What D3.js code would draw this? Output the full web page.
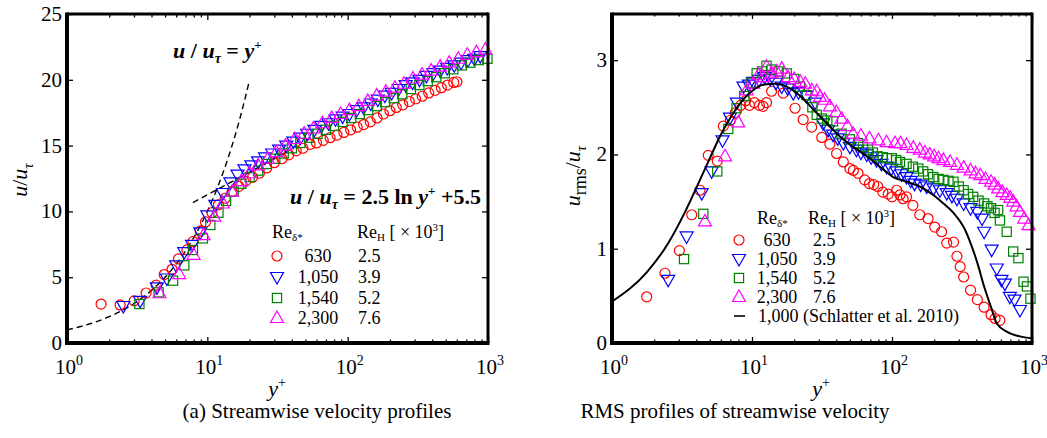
<!DOCTYPE html>
<html><head><meta charset="utf-8">
<script src="https://cdn.jsdelivr.net/npm/d3@7"></script>
<style>
body{margin:0;background:#fff}
svg{display:block}
</style>
</head><body>
<svg id="c" width="1047" height="438" font-family="Liberation Serif, DejaVu Serif, serif"></svg>
<script>
// ---------- Left panel: mean velocity u/u_tau vs y+ ----------
const mRed_yp = [1.75,2.39,3.01,3.66,4.32,4.93,5.6,6.24,7.16,7.9,8.9,9.7,10.8,12,13.4,15,16.8,18.8,21,23.5,26.5,30,34,38,43,48,54,60,67,75,84,94,105,117,130,145,162,180,200,222,247,275,305,340,378,420,465,515,570,600];
const mRed_u  = [2.96,2.89,3.2,3.8,4.4,5.2,5.6,6.4,7.07,7.7,8.5,9.2,9.9,10.5,11.0,11.5,11.9,12.3,12.6,12.9,13.3,13.7,14.0,14.3,14.6,14.8,15.1,15.2,15.4,15.6,15.8,16.0,16.2,16.4,16.6,16.8,17.1,17.4,17.65,17.9,18.1,18.35,18.55,18.75,19.0,19.2,19.4,19.6,19.8,19.85];
const mBlue_yp = [2.52,3.32,4.37,5.15,6.0,6.85,7.77,8.9,10.0,11.4,12.9,14.6,16.4,18.4,20.6,23,25.8,29,32.5,36.5,41,46,51.5,58,65,73,82,92,103,116,130,146,164,184,206,231,259,290,325,364,408,457,512,574,643,720,800,880];
const mBlue_u  = [2.81,3.2,4.23,4.9,5.9,6.9,7.45,8.4,9.7,10.5,11.4,12.2,12.8,13.2,13.5,13.8,14.1,14.4,14.7,15.0,15.3,15.6,15.9,16.2,16.5,16.7,17.0,17.2,17.4,17.7,17.9,18.2,18.5,18.8,19.0,19.3,19.6,19.8,20.0,20.3,20.5,20.7,20.9,21.1,21.3,21.5,21.6,21.8];
const mGreen_yp = [3.28,4.5,5.7,6.85,7.9,9.3,10.5,12,13.6,15.4,17.5,20,23,26.5,30.5,35,40,46,53,61,70,80,92,106,122,140,161,185,213,245,282,324,372,428,492,566,651,748,860,990];
const mGreen_u  = [2.96,3.85,4.74,5.9,7.07,7.95,8.97,9.9,10.8,11.5,12.1,12.6,13.1,13.6,14.0,14.4,14.8,15.2,15.6,15.9,16.2,16.5,16.8,17.1,17.4,17.7,18.0,18.3,18.6,18.9,19.3,19.6,19.9,20.2,20.5,20.8,21.1,21.3,21.5,21.6];
const mMag_yp = [4.56,6.3,7.98,9.4,11.2,12.9,15,17.5,20,23,27,31,36,42,49,57,66,77,89,103,120,139,161,187,217,252,292,339,393,456,529,614,712,826,958];
const mMag_u  = [3.78,5.24,6.7,8.2,9.6,10.6,11.5,12.3,12.9,13.5,14.0,14.5,15.0,15.5,15.9,16.3,16.7,17.1,17.4,17.7,18.0,18.4,18.8,19.1,19.4,19.7,20.1,20.4,20.7,21.0,21.3,21.6,21.9,22.1,22.3];
// reference lines (left)
const visc_yp = [1,1.5,2,3,4,5,6,8,10,12,14,16,18,20];
const visc_u  = [1,1.5,2,3,4,5,6,8,10,12,14,16,18,20];
const logLaw_yp = [7.9,10,15,20,30,40];
const logLaw_u  = [10.67,11.26,12.27,12.99,14.00,14.72];

// ---------- Right panel: RMS u_rms/u_tau vs y+ ----------
const rRed_yp = [1.77,2.39,3.03,3.71,4.25,4.87,5.65,6.24,7.0,7.6,8.3,9.0,9.6,10.4,11.3,12.0,12.7,13.8,16.7,20.3,23.2,26.7,31.5,36,40.2,44.9,50.1,53,57.2,63.8,69,74,79,86,94,100,108,114,120,127,141,158,181,202,226,246,275,291,307,325,364,407,455,510,545,590];
const rRed_u  = [0.49,0.74,0.98,1.36,1.62,1.99,1.93,2.30,2.36,2.44,2.52,2.57,2.52,2.55,2.52,2.51,2.55,2.67,2.65,2.49,2.37,2.29,2.18,2.11,2.01,1.92,1.85,1.83,1.80,1.73,1.69,1.68,1.66,1.60,1.58,1.55,1.62,1.57,1.53,1.55,1.46,1.36,1.32,1.23,1.18,1.06,1.07,0.92,0.81,0.70,0.56,0.46,0.38,0.30,0.26,0.24];
const rBlue_yp = [2.52,3.41,4.37,5.15,6.16,6.96,7.8,8.7,9.5,10.2,11.2,12.3,13.5,14.8,16.3,18,19.7,21.5,24.5,28.2,32.2,35,37.9,41,44.9,50,55.7,60,66,71,77.5,84,91.4,99,108,117,127,136,145,160,177,198,220,246,268,291,325,364,407,440,455,515,560,605,640,695,750,820];
const rBlue_u  = [0.67,1.13,1.59,1.82,2.15,2.39,2.55,2.72,2.74,2.77,2.79,2.82,2.80,2.76,2.72,2.70,2.65,2.66,2.62,2.55,2.33,2.26,2.21,2.17,2.12,2.08,2.05,2.02,2.0,1.97,1.94,1.90,1.87,1.85,1.82,1.79,1.76,1.72,1.69,1.68,1.66,1.64,1.62,1.59,1.56,1.53,1.48,1.43,1.39,1.32,1.18,0.99,0.79,0.67,0.63,0.49,0.46,0.35];
const rGreen_yp = [3.27,4.49,5.65,6.77,7.76,8.8,9.8,10.8,11.8,12.7,13.8,15.5,17.7,20,22,24.5,27,29,31.5,34.5,37.9,43.6,50,57.2,62,67.5,73,79,86,92,99.6,107,114,127,141,154,167,181,197,215,233,253,275,300,325,350,380,415,455,480,510,540,573,590,660,734,800,870,920,975];
const rGreen_u  = [0.89,1.37,1.82,2.27,2.49,2.62,2.76,2.86,2.88,2.94,2.90,2.88,2.86,2.80,2.72,2.63,2.50,2.42,2.38,2.36,2.35,2.22,2.16,2.12,2.08,2.05,2.02,1.98,1.97,1.96,1.96,1.94,1.92,1.90,1.87,1.85,1.82,1.79,1.76,1.74,1.73,1.72,1.71,1.66,1.62,1.58,1.55,1.51,1.48,1.45,1.43,1.38,1.41,1.30,1.18,0.97,0.90,0.65,0.60,0.47];
const rMag_yp = [4.61,6.42,7.98,9.15,10.2,11.1,12.0,12.7,13.8,15,16.3,18.1,20,22.1,24,26.7,29,30.6,33,36,40,43.6,48,52.7,60,69,80,91.4,105,115,127,142,158,172,186,200,215,233,260,291,325,364,395,428,465,510,540,573,615,660,700,734,775,820,880,945];
const rMag_u  = [1.29,1.98,2.34,2.68,2.75,2.84,2.82,2.93,2.86,2.88,2.91,2.82,2.80,2.77,2.75,2.68,2.67,2.61,2.58,2.51,2.45,2.38,2.30,2.22,2.20,2.17,2.15,2.13,2.12,2.12,2.10,2.07,2.05,2.02,2.0,1.98,1.96,1.94,1.92,1.89,1.86,1.83,1.80,1.78,1.74,1.71,1.68,1.64,1.60,1.57,1.54,1.50,1.45,1.39,1.32,1.25];
// Schlatter et al. 2010 DNS line
const sch_yp = [1,1.77,2.5,3.3,4.25,5.0,5.9,6.96,8.2,9.95,12.0,14.6,17.7,22.1,27.3,34.2,42.5,52.7,66,82,102,127,158,197,233,275,325,364,407,455,510,560,660,820,1000];
const sch_u  = [0.44,0.75,1.05,1.38,1.73,1.96,2.19,2.38,2.54,2.67,2.74,2.75,2.72,2.62,2.48,2.33,2.19,2.08,1.98,1.87,1.76,1.71,1.66,1.57,1.48,1.38,1.23,1.06,0.85,0.60,0.38,0.21,0.12,0.07,0.05];

// legend / tick labels
const legendRe = ["630","1,050","1,540","2,300"];
const legendReH = ["2.5","3.9","5.2","7.6"];
const seriesColors = ["#ff0000","#0000ff","#008000","#ff00ff"];
const seriesShapes = ["circle","down","square","up"];
const leftYTicks = [0,5,10,15,20,25];
const rightYTicks = [0,1,2,3];
const xDecades = [1,10,100,1000];
const xDecadeExp = ["0","1","2","3"];

const svg = d3.select("#c");

function drawMarker(g, shape, cx, cy, color){
  let el;
  if(shape==="circle"){
    el = g.append("circle").attr("cx",cx).attr("cy",cy).attr("r",5);
  } else if(shape==="square"){
    el = g.append("rect").attr("x",cx-4.6).attr("y",cy-4.6).attr("width",9.2).attr("height",9.2);
  } else if(shape==="up"){
    el = g.append("path").attr("d",`M${cx},${cy-7}L${cx+6.5},${cy+4.5}L${cx-6.5},${cy+4.5}Z`);
  } else {
    el = g.append("path").attr("d",`M${cx},${cy+7}L${cx+6.5},${cy-4.5}L${cx-6.5},${cy-4.5}Z`);
  }
  el.attr("fill","none").attr("stroke",color).attr("stroke-width",1.2);
}

function panel(o){
  const x = d3.scaleLog().domain([1,1000]).range([o.x0,o.x1]);
  const y = d3.scaleLinear().domain([0,o.ymax]).range([o.y1,o.y0]);
  const g = svg.append("g");
  const minor=[]; for(let d=1; d<1000; d*=10) for(let k=2;k<10;k++) minor.push(d*k);
  const clean = s=>s.select(".domain").remove();
  g.append("g").attr("transform",`translate(0,${o.y1})`).call(d3.axisBottom(x).tickValues(minor).tickSize(-3.5).tickFormat("")).call(clean);
  g.append("g").attr("transform",`translate(0,${o.y1})`).call(d3.axisBottom(x).tickValues(xDecades).tickSize(-6).tickFormat("")).call(clean);
  g.append("g").attr("transform",`translate(0,${o.y0})`).call(d3.axisTop(x).tickValues(minor).tickSize(-3.5).tickFormat("")).call(clean);
  g.append("g").attr("transform",`translate(0,${o.y0})`).call(d3.axisTop(x).tickValues(xDecades).tickSize(-6).tickFormat("")).call(clean);
  g.append("g").attr("transform",`translate(${o.x0},0)`).call(d3.axisLeft(y).tickValues(o.yticks).tickSize(-6).tickFormat("")).call(clean);
  g.append("g").attr("transform",`translate(${o.x1},0)`).call(d3.axisRight(y).tickValues(o.yticks).tickSize(-6).tickFormat("")).call(clean);
  g.selectAll(".tick line").attr("stroke","#000").attr("stroke-width",1.3);

  g.selectAll("text.yt").data(o.yticks).join("text").attr("class","yt")
    .attr("x",o.x0-5).attr("y",d=>y(d)+7).attr("text-anchor","end").attr("font-size",21).text(d=>d);
  xDecades.forEach((d,i)=>{
    const t = g.append("text").attr("x",x(d)+2).attr("y",o.y1+31).attr("text-anchor","middle").attr("font-size",21);
    t.append("tspan").text("10");
    t.append("tspan").attr("dy",-9).attr("font-size",14).text(xDecadeExp[i]);
  });
  return {x,y,g};
}

// ===== LEFT =====
const L = panel({x0:67,x1:488,y0:14,y1:343,ymax:25,yticks:leftYTicks});
const line = (x,y)=>d3.line().x(d=>x(d[0])).y(d=>y(d[1]));
L.g.append("path").datum(visc_yp.map((v,i)=>[v,visc_u[i]]))
  .attr("d",line(L.x,L.y).curve(d3.curveMonotoneX)).attr("fill","none").attr("stroke","#000").attr("stroke-width",1.4).attr("stroke-dasharray","6,4");
L.g.append("path").datum(logLaw_yp.map((v,i)=>[v,logLaw_u[i]]))
  .attr("d",line(L.x,L.y).curve(d3.curveMonotoneX)).attr("fill","none").attr("stroke","#000").attr("stroke-width",1.4).attr("stroke-dasharray","6,4");
const leftSeries = [[mRed_yp,mRed_u],[mBlue_yp,mBlue_u],[mGreen_yp,mGreen_u],[mMag_yp,mMag_u]];
leftSeries.forEach((s,k)=>{
  const gg = L.g.append("g");
  s[0].forEach((v,i)=>drawMarker(gg,seriesShapes[k],L.x(v),L.y(s[1][i]),seriesColors[k]));
});

// ===== RIGHT =====
const R = panel({x0:612,x1:1032,y0:13,y1:343,ymax:3.5,yticks:rightYTicks});
const rightSeries = [[rRed_yp,rRed_u],[rBlue_yp,rBlue_u],[rGreen_yp,rGreen_u],[rMag_yp,rMag_u]];
rightSeries.forEach((s,k)=>{
  const gg = R.g.append("g");
  s[0].forEach((v,i)=>drawMarker(gg,seriesShapes[k],R.x(v),R.y(s[1][i]),seriesColors[k]));
});
R.g.append("path").datum(sch_yp.map((v,i)=>[v,sch_u[i]]))
  .attr("d",line(R.x,R.y).curve(d3.curveMonotoneX)).attr("fill","none").attr("stroke","#000").attr("stroke-width",2);

function frame(x0,x1,y0,y1){
  svg.append("line").attr("x1",x0).attr("x2",x1).attr("y1",y0).attr("y2",y0).attr("stroke","#000").attr("stroke-width",3);
  svg.append("line").attr("x1",x1).attr("x2",x1).attr("y1",y0-1.5).attr("y2",y1).attr("stroke","#000").attr("stroke-width",3);
  svg.append("line").attr("x1",x0-2).attr("x2",x1+1.5).attr("y1",y1).attr("y2",y1).attr("stroke","#000").attr("stroke-width",4);
  svg.append("line").attr("x1",x0).attr("x2",x0).attr("y1",y0-1.5).attr("y2",y1+2).attr("stroke","#000").attr("stroke-width",4);
}
frame(67,488,14,343);
frame(612,1032,14,343);

function eqText(xp,yp,parts){
  const t = svg.append("text").attr("x",xp).attr("y",yp).attr("font-size",22).attr("font-weight","bold");
  parts.forEach(p=>{
    const s = t.append("tspan").text(p.t);
    if(p.i) s.attr("font-style","italic");
    if(p.fs) s.attr("font-size",p.fs);
    if(p.dy!==undefined) s.attr("dy",p.dy);
  });
}
eqText(173,58,[{t:"u",i:1},{t:" / "},{t:"u",i:1},{t:"τ",i:1,fs:14,dy:5},{t:" = ",dy:-5},{t:"y",i:1},{t:"+",fs:13,dy:-9}]);
eqText(290,204,[{t:"u",i:1},{t:" / "},{t:"u",i:1},{t:"τ",i:1,fs:14,dy:5},{t:" = 2.5 ln ",dy:-5},{t:"y",i:1},{t:"+",fs:13,dy:-9},{t:" +5.5",dy:9}]);

function yLabel(cx,cy,sub){
  const t = svg.append("text").attr("transform",`translate(${cx},${cy}) rotate(-90)`).attr("text-anchor","middle").attr("font-size",22);
  t.append("tspan").attr("font-style","italic").text("u");
  if(sub){ t.append("tspan").attr("font-size",18).attr("dy",6).text(sub); t.append("tspan").attr("dy",-6).text("/"); }
  else t.append("tspan").text("/");
  t.append("tspan").attr("font-style","italic").text("u");
  t.append("tspan").attr("font-style","italic").attr("font-size",15).attr("dy",6).text("τ");
}
yLabel(27,180,null);
yLabel(580,176,"rms");
function xLabel(cx){
  const t = svg.append("text").attr("x",cx).attr("y",396).attr("text-anchor","middle").attr("font-size",22);
  t.append("tspan").attr("font-style","italic").text("y");
  t.append("tspan").attr("font-size",14).attr("dy",-9).text("+");
}
xLabel(277); xLabel(821);
svg.append("text").attr("x",317).attr("y",418).attr("text-anchor","middle").attr("font-size",21).text("(a) Streamwise velocity profiles");
svg.append("text").attr("x",735).attr("y",418).attr("text-anchor","middle").attr("font-size",21).text("RMS profiles of streamwise velocity");

function legendHeader(xa,xb,yb){
  const a = svg.append("text").attr("x",xa).attr("y",yb).attr("font-size",18);
  a.append("tspan").text("Re");
  a.append("tspan").attr("font-size",11).attr("dy",3).text("δ*");
  const b = svg.append("text").attr("x",xb).attr("y",yb).attr("font-size",18);
  b.append("tspan").text("Re");
  b.append("tspan").attr("font-size",11).attr("dy",3).text("H");
  b.append("tspan").attr("dy",-3).text(" [ × 10");
  b.append("tspan").attr("font-size",11).attr("dy",-7).text("3");
  b.append("tspan").attr("dy",7).text("]");
}
function legend(o){
  legendHeader(o.hx,o.hx2,o.hy);
  legendRe.forEach((r,i)=>{
    const cy = o.ry[i];
    drawMarker(svg,seriesShapes[i],o.mx,cy,seriesColors[i]);
    svg.append("text").attr("x",o.nx).attr("y",cy+6).attr("text-anchor","middle").attr("font-size",18).text(r);
    svg.append("text").attr("x",o.vx).attr("y",cy+6).attr("font-size",18).text(legendReH[i]);
  });
}
legend({hx:272,hx2:357,hy:238,mx:277,nx:318,vx:358,ry:[256,277,298,318]});
legend({hx:757,hx2:808,hy:224,mx:739,nx:777,vx:813,ry:[240,259,278,297]});
svg.append("line").attr("x1",734).attr("x2",745).attr("y1",316).attr("y2",316).attr("stroke","#000").attr("stroke-width",1.6);
svg.append("text").attr("x",758).attr("y",322).attr("font-size",18).text("1,000 (Schlatter et al. 2010)");
</script>
</body></html>
